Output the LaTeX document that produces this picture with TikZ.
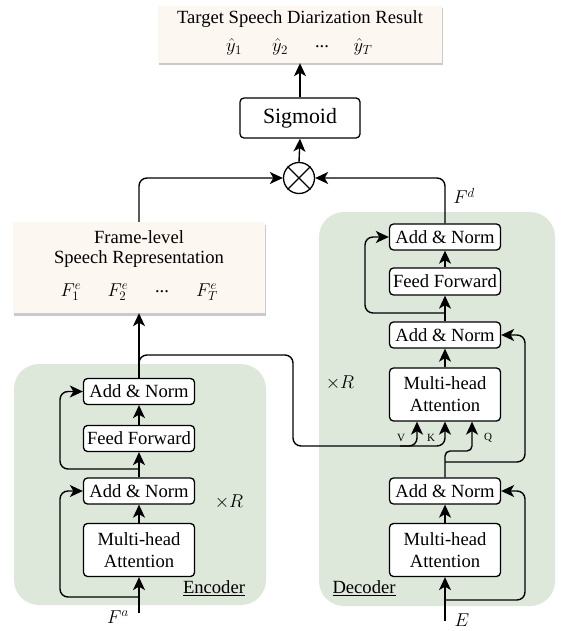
\RequirePackage{fix-cm}
\documentclass[tikz,border=0pt]{standalone}
\usepackage[no-math]{fontspec}
\setmainfont{Liberation Serif}
\usetikzlibrary{arrows.meta,shadows,calc}
\definecolor{panel}{HTML}{DDE8DA}
\definecolor{peach}{HTML}{FDF7F2}
\begin{document}
\begin{tikzpicture}[x=1pt,y=-1pt,
  every node/.style={font=\fontsize{18.6}{22}\selectfont},
  blk/.style={draw,line width=1.3pt,rounded corners=4pt,fill=white,minimum width=111pt,inner sep=0pt,align=center},
  anbox/.style={blk,minimum height=26pt},
  mhabox/.style={blk,minimum height=53pt},
  resbox/.style={fill=peach,inner sep=0pt,drop shadow={shadow xshift=1pt,shadow yshift=-2.5pt,opacity=0.35,fill=black!60}},
  con/.style={line width=1.4pt,rounded corners=8pt},
  arr/.style={con,-{Stealth[length=13pt,width=12pt,inset=3.5pt]}},
  lbl/.style={inner sep=0pt},
  tiny/.style={inner sep=0pt,font=\fontsize{11}{13}\selectfont},
]
\useasboundingbox (0,0) rectangle (568,631);

% panels
\fill[panel,rounded corners=25pt] (14,364) rectangle (266,605);
\fill[panel,rounded corners=25pt] (319,212) rectangle (555,606);

% result box
\node[resbox,minimum width=284pt,minimum height=57pt] (result) at (300,34.5) {};
\node[lbl] (rtitle) at (300,19) {Target Speech Diarization Result};
\node[lbl] (y1) at (234,47) {$\hat{y}_1$};
\node[lbl] (y2) at (280,47) {$\hat{y}_2$};
\node[lbl] (yd) at (322,47) {...};
\node[lbl] (yT) at (363,47) {$\hat{y}_T$};

% sigmoid and multiply
\node[blk,minimum width=120pt,minimum height=40pt,font=\fontsize{21.8}{26}\selectfont] (sig) at (300,118) {Sigmoid};
\node[draw,circle,line width=1.3pt,minimum size=31pt,inner sep=0pt,fill=white] (mul) at (299,178) {};
\draw[line width=1.3pt] (mul.north west) -- (mul.south east) (mul.north east) -- (mul.south west);

% frame-level representation
\node[resbox,minimum width=252pt,minimum height=91pt] (frame) at (139,267.5) {};
\node[lbl] (ft1) at (139,237) {Frame-level};
\node[lbl] (ft2) at (139,259) {Speech Representation};
\node[lbl] (f1) at (71,292) {$F_1^e$};
\node[lbl] (f2) at (118,292) {$F_2^e$};
\node[lbl] (fd) at (162,292) {...};
\node[lbl] (fT) at (207,292) {$F_T^e$};

% encoder
\node[anbox] (ean2) at (139,391.5) {Add \& Norm};
\node[blk,minimum height=26pt] (eff) at (139,438.5) {Feed Forward};
\node[anbox] (ean1) at (139,491) {Add \& Norm};
\node[mhabox] (emha) at (139,550) {Multi-head\\Attention};

% decoder
\node[anbox] (dan3) at (445,237) {Add \& Norm};
\node[blk,minimum height=27pt] (dff) at (445,281.5) {Feed Forward};
\node[anbox] (dan2) at (445,335) {Add \& Norm};
\node[mhabox] (dmha2) at (445,394.5) {Multi-head\\Attention};
\node[anbox] (dan1) at (445,491) {Add \& Norm};
\node[mhabox] (dmha1) at (445,550) {Multi-head\\Attention};

% labels
\node[lbl] (xr1) at (229,502) {$\times R$};
\node[lbl] (xr2) at (340,383) {$\times R$};
\node[lbl] (enc) at (214,588) {\underline{Encoder}};
\node[lbl] (dec) at (364,588) {\underline{Decoder}};
\node[lbl] (fal) at (118,617) {$F^a$};
\node[lbl] (el) at (462,620) {$E$};
\node[lbl] (fdl) at (464,196) {$F^d$};
\node[tiny] (vl) at (401,438) {V};
\node[tiny] (kl) at (431,438) {K};
\node[tiny] (ql) at (488,438) {Q};

% coordinates
\coordinate (fa) at (139,613);
\coordinate (er1) at (139,597);
\coordinate (er2) at (139,469);
\coordinate (eb) at (139,372);
\coordinate (ein) at (445,621);
\coordinate (dr1) at (445,600);
\coordinate (dr2) at (445,462);
\coordinate (dr3) at (445,313);
\coordinate (kj) at (400,446);
\coordinate (V) at ($(dmha2.south)+(-28,0)$);
\coordinate (Q) at ($(dmha2.south)+(27,0)$);

% top connectors
\draw[arr] (sig.north) -- (result.south);
\draw[arr] (mul.north) -- (sig.south);
\draw[arr] (frame.north) |- (mul.west);
\draw[arr] (dan3.north) |- (mul.east);

% encoder connectors
\draw[arr] (fa) -- (emha.south);
\draw[arr] (er1) -- (60,597) -- (60,491) -- (ean1.west);
\draw[arr] (emha.north) -- (ean1.south);
\draw[arr] (ean1.north) -- (eff.south);
\draw[arr] (er2) -- (60,469) -- (60,391.5) -- (ean2.west);
\draw[arr] (eff.north) -- (ean2.south);
\draw[arr] (ean2.north) -- (frame.south);
\draw[arr] (eb) -- (139,355) -- (293,355) -- (293,446) -- (417,446) -- (V);
\draw[arr] (kj) -- (445,446) -- (dmha2.south);

% decoder connectors
\draw[arr] (ein) -- (dmha1.south);
\draw[arr] (dr1) -- (525,600) -- (525,491) -- (dan1.east);
\draw[arr] (dmha1.north) -- (dan1.south);
\draw[arr,rounded corners=5pt] (dan1.north) -- (445,451) -- (472,451) -- (Q);
\draw[arr] (dr2) -- (525,462) -- (525,335) -- (dan2.east);
\draw[arr] (dmha2.north) -- (dan2.south);
\draw[arr] (dan2.north) -- (dff.south);
\draw[arr] (dff.north) -- (dan3.south);
\draw[arr] (dr3) -- (365,313) -- (365,237) -- (dan3.west);
\end{tikzpicture}
\end{document}
